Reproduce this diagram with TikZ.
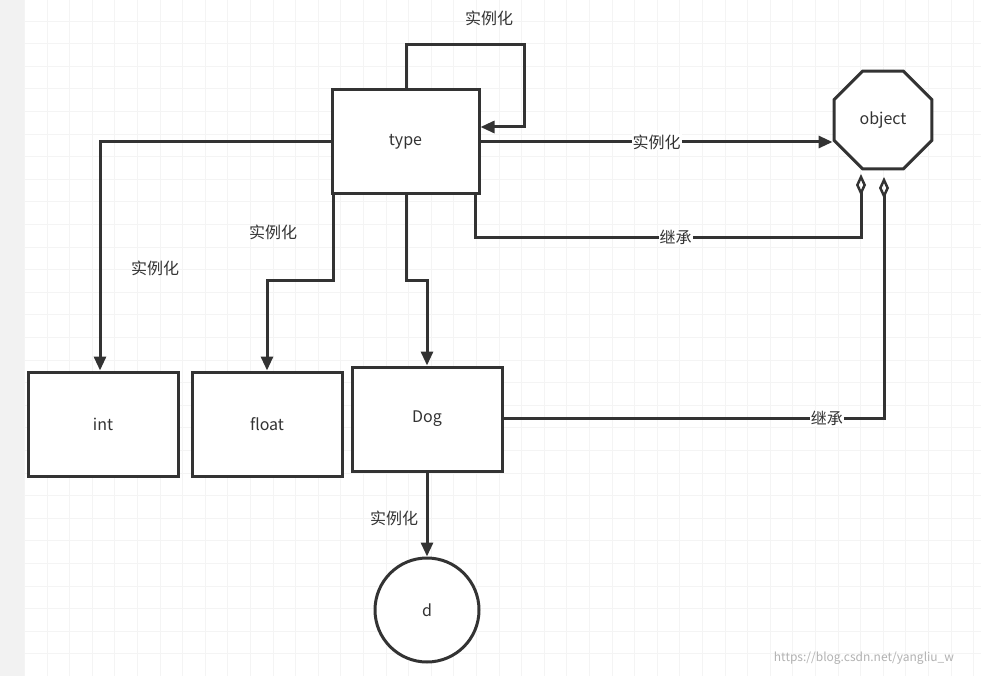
\documentclass[tikz,border=0pt]{standalone}
\usepackage{fontspec}
\setmainfont{Noto Sans CJK SC}
\usetikzlibrary{arrows.meta,shapes.geometric}
\definecolor{ln}{HTML}{333333}
\begin{document}
\begin{tikzpicture}[x=1pt,y=-1pt,
  every node/.style={font=\fontsize{16}{18}\selectfont,text=ln},
  box/.style={draw=ln,line width=3pt,fill=white,minimum width=147pt,minimum height=104pt,inner sep=0pt},
  conn/.style={draw=ln,line width=3pt,-{Triangle[length=14pt,width=12pt]}},
  inh/.style={draw=ln,line width=3pt,{Diamond[open,length=22pt,width=10pt,line width=2.5pt]}-},
  lbl/.style={fill=white,inner sep=1pt}]
\useasboundingbox (0,0) rectangle (981,676);
\fill[white] (0,0) rectangle (981,676);
\fill[gray!10] (0,0) rectangle (24,676);
\foreach \i in {0,...,43} {
  \pgfmathsetmacro\xx{24.5+22.6*\i}
  \draw[gray!9,line width=1pt] (\xx,0) -- (\xx,676);}
\foreach \i in {0,...,30} {
  \pgfmathsetmacro\yy{-1.5+22.6*\i}
  \draw[gray!9,line width=1pt] (24,\yy) -- (981,\yy);}
\node[box] (type) at (405.5,141.5) {type};
\node[box,minimum width=150pt] (int) at (103,424) {int};
\node[box,minimum width=150pt] (float) at (267,424) {float};
\node[box,minimum width=150pt] (dog) at (427,419) {Dog};
\node[circle,draw=ln,line width=3pt,fill=white,minimum size=104pt,inner sep=0pt] (d) at (427,610) {d};
\node[regular polygon,regular polygon sides=8,draw=ln,line width=3pt,fill=white,minimum size=106pt,inner sep=0pt] (obj) at (883,120) {object};
% self loop
\draw[conn] (406,90) -- (406,45) -- (524,45) -- (524,127) -- (type.east |- 0,127);
\node at (489,18) {实例化};
% type -> object
\draw[conn] (type.east |- 0,142) -- (obj.west |- 0,142) node[pos=0.5,lbl] {实例化};
% inheritance type -> object
\coordinate (tb) at (475,193);
\draw[inh] (861,174) -- (861,237) -- (475,237) node[pos=0.48,lbl] {继承} -- (tb);
% dog -> object
\draw[inh] (884,177) -- (884,418) -- (dog.east |- 0,418) node[pos=0.15,lbl] {继承};
% type -> int
\draw[conn] (type.west |- 0,142) -- (100,142) -- (int.north -| 100,0);
\node at (155,268) {实例化};
% type -> float
\draw[conn] (333,193) -- (333,280) -- (267,280) -- (float.north);
\node at (273,232) {实例化};
% type -> dog
\draw[conn] (406,193) -- (406,280) -- (427,280) -- (dog.north);
% dog -> d
\draw[conn] (dog.south) -- (d.north) node[pos=0.55,left=4pt,text=ln] {实例化};
\node[text=gray!60,font=\fontsize{12}{14}\selectfont] at (864,658) {https://blog.csdn.net/yangliu\_w};
\end{tikzpicture}
\end{document}
